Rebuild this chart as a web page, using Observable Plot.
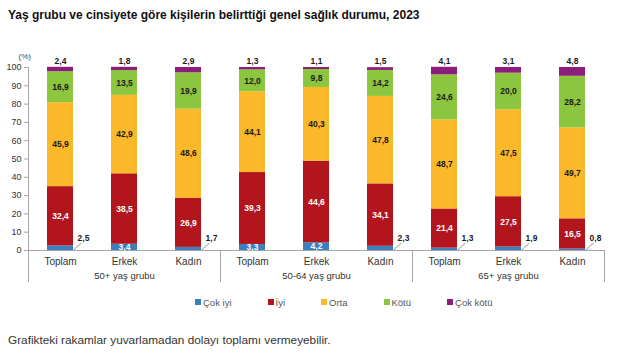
<!DOCTYPE html>
<html><head><meta charset="utf-8">
<script src="https://cdn.jsdelivr.net/npm/d3@7"></script>
<script src="https://cdn.jsdelivr.net/npm/@observablehq/plot@0.6"></script>
<style>
body{margin:0;width:640px;height:360px;background:#fff;font-family:"Liberation Sans",Arial,sans-serif;position:relative;overflow:hidden}
#title{position:absolute;left:8px;top:8px;font-weight:bold;font-size:12px;line-height:14px;color:#111}
#chart{position:absolute;left:0;top:30px}
#legend{position:absolute;left:195px;top:297px;display:flex;gap:36px;font-size:9.5px;color:#555;line-height:12px}
#legend span.sw{display:inline-block;width:6px;height:6px;margin-right:2px;vertical-align:1px}
#caption{position:absolute;left:8px;top:333px;font-size:11.8px;color:#333;line-height:14px}
</style></head>
<body>
<div id="title">Yaş grubu ve cinsiyete göre kişilerin belirttiği genel sağlık durumu, 2023</div>
<div id="chart"></div>
<div id="legend"></div>
<div id="caption">Grafikteki rakamlar yuvarlamadan dolayı toplamı vermeyebilir.</div>
<script>
const groups = ["50+ yaş grubu", "50-64 yaş grubu", "65+ yaş grubu"];
const sexes = ["Toplam", "Erkek", "Kadın"];
const categories = ["Çok iyi", "İyi", "Orta", "Kötü", "Çok kötü"];
const colors = ["#3a7fc0", "#b3151d", "#fbb829", "#8cc63f", "#8c1d7a"];
const cokIyi  = [2.5, 3.4, 1.7, 3.3, 4.2, 2.3, 1.3, 1.9, 0.8];
const iyi     = [32.4, 38.5, 26.9, 39.3, 44.6, 34.1, 21.4, 27.5, 16.5];
const orta    = [45.9, 42.9, 48.6, 44.1, 40.3, 47.8, 48.7, 47.5, 49.7];
const kotu    = [16.9, 13.5, 19.9, 12.0, 9.8, 14.2, 24.6, 20.0, 28.2];
const cokKotu = [2.4, 1.8, 2.9, 1.3, 1.1, 1.5, 4.1, 3.1, 4.8];
const yTicks = [0, 10, 20, 30, 40, 50, 60, 70, 80, 90, 100];

const series = [cokIyi, iyi, orta, kotu, cokKotu];
const fmt = v => v.toFixed(1).replace(".", ",");

const keys = [];
groups.forEach(g => sexes.forEach(s => keys.push(g + "|" + s)));
const rows = [];
keys.forEach((k, i) => categories.forEach((c, j) => rows.push({key: k, cat: c, value: series[j][i]})));
const bars = keys.map((k, i) => ({key: k, total: d3.sum(series, s => s[i]), top: cokKotu[i], low: cokIyi[i]}));
const smallLow = bars.filter(b => b.low < 3);
const groupMid = groups.map(g => ({key: g + "|" + sexes[1], label: g}));
const groupStarts = groups.map(g => g + "|" + sexes[0]);
const lastKey = keys[keys.length - 1];

const W = 640, H = 260, mL = 28, mR = 36, mT = 37, mB = 40;
const step = (W - mL - mR) / keys.length;
const half = step / 2;
const bw = step * 0.41;

const labelText = (cat, cond = () => true) => d => (d.cat === cat && cond(d)) ? fmt(d.value) : "";
const stackText = (cat, fill, cond) => Plot.text(rows, Plot.stackY({
  x: "key", y: "value", text: labelText(cat, cond), fill, fontWeight: "bold", fontSize: 8.5
}));

const plot = Plot.plot({
  width: W, height: H,
  marginLeft: mL, marginRight: mR, marginTop: mT, marginBottom: mB,
  style: {fontFamily: '"Liberation Sans", Arial, sans-serif', background: "transparent"},
  x: {domain: keys, paddingInner: 0.59, paddingOuter: 0.295, axis: null},
  y: {domain: [0, 100], axis: null},
  color: {domain: categories, range: colors},
  marks: [
    Plot.barY(rows, {x: "key", y: "value", fill: "cat"}),
    Plot.ruleY([0], {stroke: "#a6a6a6"}),
    Plot.axisY({ticks: yTicks, tickSize: 4, tickPadding: 3, fontSize: 9, label: null, stroke: "#a6a6a6", color: "#333"}),
    Plot.ruleX([keys[0]], {x: d => d, y1: 100, y2: 0, dx: -half, insetBottom: -32, stroke: "#a6a6a6"}),
    Plot.ruleX(groupStarts.slice(1), {x: d => d, y1: 0, y2: 0, dx: -half, insetBottom: -32, stroke: "#a6a6a6"}),
    Plot.ruleX([lastKey], {x: d => d, y1: 0, y2: 0, dx: half, insetBottom: -32, stroke: "#a6a6a6"}),
    Plot.axisX({tickFormat: k => k.split("|")[1], tickSize: 0, tickPadding: 7, fontSize: 10, label: null, color: "#333"}),
    Plot.text(groupMid, {x: "key", y: 0, dy: 25, text: "label", fontSize: 9.5, fill: "#333"}),
    Plot.text(["(%)"], {frameAnchor: "top-left", dx: -10, dy: -14, text: d => d, fontSize: 8, fill: "#444"}),
    stackText("Çok iyi", "white", d => d.value >= 3),
    stackText("İyi", "white"),
    stackText("Orta", "#1a1a1a"),
    stackText("Kötü", "#1a1a1a"),
    Plot.text(bars, {x: "key", y: "total", dy: -6, text: d => fmt(d.top), fontWeight: "bold", fontSize: 8.5, fill: "#1a1a1a"}),
    Plot.vector(smallLow, {x: "key", y: 0, dx: bw / 2, dy: -0.5, length: 10, rotate: 48, anchor: "start", r: 0, stroke: "#a6a6a6", strokeWidth: 1}),
    Plot.text(smallLow, {x: "key", y: 0, dx: bw / 2 + 4, dy: -12, text: d => fmt(d.low), textAnchor: "start", fontWeight: "bold", fontSize: 8.5, fill: "#1a1a1a"})
  ]
});
document.getElementById("chart").appendChild(plot);

const legend = document.getElementById("legend");
categories.forEach((c, i) => {
  const item = document.createElement("div");
  item.innerHTML = `<span class="sw" style="background:${colors[i]}"></span>${c}`;
  legend.appendChild(item);
});
</script>
</body></html>
